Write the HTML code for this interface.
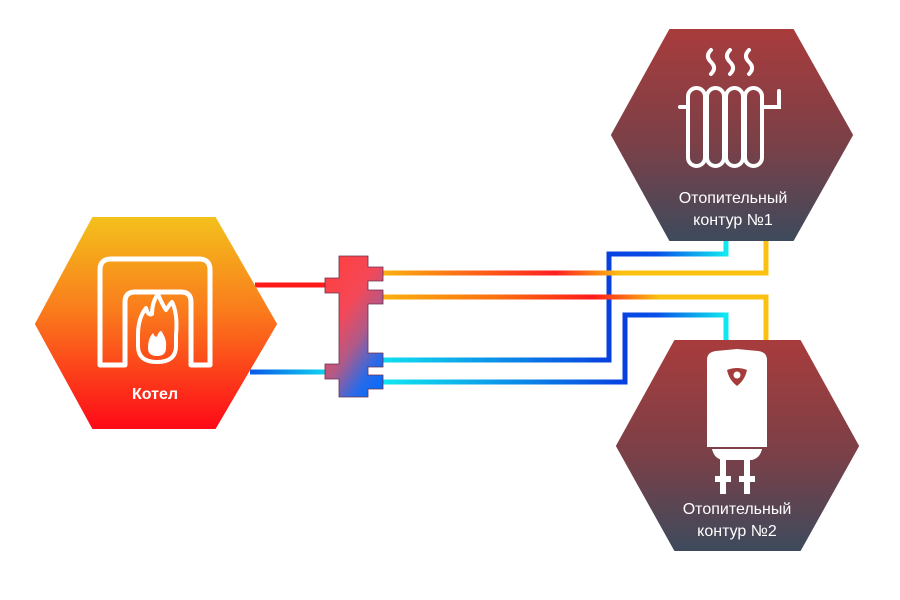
<!DOCTYPE html>
<html><head><meta charset="utf-8"><style>
html,body{margin:0;padding:0;background:#fff;}
svg{display:block;}
text{font-family:"Liberation Sans","DejaVu Sans",sans-serif;fill:#fff;}
</style></head><body>
<svg width="900" height="600" viewBox="0 0 900 600" xmlns="http://www.w3.org/2000/svg">
<defs>
<linearGradient id="gBoil" x1="0" y1="0" x2="0" y2="1"><stop offset="0" stop-color="#f3c01c"/><stop offset="0.45" stop-color="#fa7a1c"/><stop offset="1" stop-color="#fe0a18"/></linearGradient>
<linearGradient id="gHex" x1="0" y1="0" x2="0" y2="1"><stop offset="0" stop-color="#a83c3c"/><stop offset="0.55" stop-color="#7a4048"/><stop offset="1" stop-color="#3e4a5c"/></linearGradient>
<linearGradient id="gSep" x1="0.2" y1="0" x2="0.8" y2="1"><stop offset="0" stop-color="#fe4040"/><stop offset="0.35" stop-color="#f44858"/><stop offset="0.6" stop-color="#b05a88"/><stop offset="0.85" stop-color="#2a6ae8"/><stop offset="1" stop-color="#0a6cf8"/></linearGradient>
<linearGradient id="p1" gradientUnits="userSpaceOnUse" x1="383" y1="0" x2="766" y2="0"><stop offset="0" stop-color="#fbb010"/><stop offset="0.45" stop-color="#ff2020"/><stop offset="0.62" stop-color="#fbc010"/><stop offset="1" stop-color="#fbc010"/></linearGradient>
<linearGradient id="p2" gradientUnits="userSpaceOnUse" x1="383" y1="0" x2="766" y2="0"><stop offset="0" stop-color="#fbb010"/><stop offset="0.3" stop-color="#fb7010"/><stop offset="0.55" stop-color="#ff1a1a"/><stop offset="0.72" stop-color="#fbc010"/><stop offset="1" stop-color="#fbc010"/></linearGradient>
<linearGradient id="p3" gradientUnits="userSpaceOnUse" x1="383" y1="0" x2="609" y2="0"><stop offset="0" stop-color="#10e0f0"/><stop offset="1" stop-color="#0840e0"/></linearGradient>
<linearGradient id="p4" gradientUnits="userSpaceOnUse" x1="383" y1="0" x2="625" y2="0"><stop offset="0" stop-color="#10e8f0"/><stop offset="1" stop-color="#0840e0"/></linearGradient>
<linearGradient id="p5" gradientUnits="userSpaceOnUse" x1="609" y1="0" x2="726" y2="0"><stop offset="0" stop-color="#0840e0"/><stop offset="0.4" stop-color="#0850e8"/><stop offset="1" stop-color="#10e8f0"/></linearGradient>
<linearGradient id="p6" gradientUnits="userSpaceOnUse" x1="255" y1="0" x2="328" y2="0"><stop offset="0" stop-color="#0860e8"/><stop offset="1" stop-color="#10d8f0"/></linearGradient>
</defs>

<g fill="none" stroke-width="5" stroke-linejoin="miter">
<line x1="255" y1="285" x2="328" y2="285" stroke="#fe1a1a"/>
<line x1="250" y1="372" x2="328" y2="372" stroke="url(#p6)"/>
<polyline points="726,240 726,254 609,254 609,360 383,360" stroke="url(#p3)"/>
<polyline points="609,254 726,254 726,240" stroke="url(#p5)"/>
<polyline points="726,341 726,315 625,315 625,382 383,382" stroke="url(#p4)"/>
<polyline points="625,315 726,315 726,341" stroke="url(#p5)"/>
<polyline points="383,273 766,273 766,240" stroke="url(#p1)"/>
<polyline points="383,297 766,297 766,341" stroke="url(#p2)"/>
</g>

<path d="M339,256 H368 V267 H383 V281 H368 V290 H383 V304 H368 V353 H383 V367 H368 V375 H383 V389 H368 V397 H339 V379 H325 V364 H339 V293 H325 V278 H339 Z" fill="url(#gSep)" stroke="#6a3050" stroke-width="0.8"/>

<polygon points="93,218 215,218 276,324 215,428 93,428 36,324" fill="url(#gBoil)" stroke="url(#gBoil)" stroke-width="2" stroke-linejoin="round"/>
<path d="M100,365 V270 Q100,259 111,259 H199 Q210,259 210,270 V365 H191 V302 Q191,292 181,292 H135 Q125,292 125,302 V365 Z" fill="none" stroke="#fff" stroke-width="5" stroke-linejoin="round"/>
<path d="M138,335 Q138,318 146,308 Q148,316 152,314 Q152,302 158,294 Q162,304 166,310 Q170,304 172,302 Q178,314 176,335 L176,346 Q176,362 157,362 Q138,362 138,346 Z" fill="none" stroke="#fff" stroke-width="4" stroke-linejoin="round"/>
<path d="M148,348 Q148,338 153,333 Q156,340 158,334 Q161,328 163,334 Q167,340 166,348 Q166,356 157,356 Q148,356 148,348 Z" fill="#fff"/>
<text x="155" y="399" font-size="16" font-weight="bold" text-anchor="middle">Котел</text>

<polygon points="670,30 793,30 852,135 793,240 670,240 612,135" fill="url(#gHex)" stroke="url(#gHex)" stroke-width="2" stroke-linejoin="round"/>
<g fill="none" stroke="#fff" stroke-width="4" stroke-linecap="round">
<path d="M711,50 Q705,56 711,62 Q717,68 711,74"/>
<path d="M730,50 Q724,56 730,62 Q736,68 730,74"/>
<path d="M749,50 Q743,56 749,62 Q755,68 749,74"/>
<path d="M680,107 H688"/>
<path d="M764,107 H779 V91"/>
</g>
<g fill="none" stroke="#fff" stroke-width="4">
<rect x="688" y="88" width="17" height="78" rx="8.5"/>
<rect x="707" y="88" width="17" height="78" rx="8.5"/>
<rect x="726" y="88" width="17" height="78" rx="8.5"/>
<rect x="745" y="88" width="17" height="78" rx="8.5"/>
</g>
<text x="733" y="203" font-size="16" text-anchor="middle">Отопительный</text>
<text x="733" y="225" font-size="16" text-anchor="middle">контур  №1</text>

<polygon points="675,341 800,341 858,446 800,550 675,550 617,446" fill="url(#gHex)" stroke="url(#gHex)" stroke-width="2" stroke-linejoin="round"/>
<path d="M707,360 Q707,352 716,351 L737,349 L758,351 Q767,352 767,360 V447 H707 Z" fill="#fff"/>
<path d="M712,449 H762 Q760,458 752,460 H722 Q714,458 712,449 Z" fill="#fff"/>
<rect x="720" y="458" width="6" height="36" fill="#fff"/>
<rect x="744" y="458" width="6" height="36" fill="#fff"/>
<rect x="715" y="476" width="16" height="6" fill="#fff"/>
<rect x="739" y="476" width="16" height="6" fill="#fff"/>
<path d="M727,370 Q737,366 747,370 Q745,380 737,386 Q729,380 727,370 Z" fill="#a53c3c"/>
<circle cx="737" cy="375" r="3.5" fill="#fff"/>
<text x="737" y="514" font-size="16" text-anchor="middle">Отопительный</text>
<text x="737" y="536" font-size="16" text-anchor="middle">контур  №2</text>
</svg>
</body></html>
